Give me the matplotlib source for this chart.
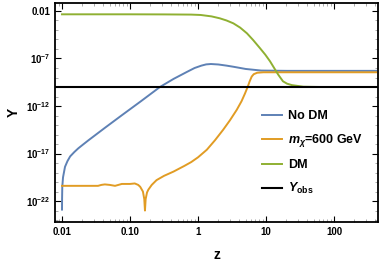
import numpy as np
import matplotlib.pyplot as plt
from matplotlib.ticker import FixedLocator, NullFormatter

plt.rcParams['font.family'] = ['Liberation Sans', 'DejaVu Sans']
plt.rcParams['mathtext.fontset'] = 'custom'
plt.rcParams['mathtext.rm'] = 'Liberation Sans:bold'
plt.rcParams['mathtext.it'] = 'Liberation Sans:bold:italic'
plt.rcParams['mathtext.bf'] = 'Liberation Sans:bold'

# log10(z), log10(Y)
nodm_lz = [-2.0, -1.999, -1.996, -1.985, -1.956, -1.92, -1.88, -1.82, -1.76, -1.69,
           -1.61, -1.37, -1.12, -0.84, -0.56, -0.36, -0.16, -0.05, 0.05, 0.12, 0.19,
           0.30, 0.42, 0.53, 0.70, 0.93, 1.3, 2.0, 2.62]
nodm_ly = [-22.9, -21.8, -20.5, -19.5, -18.4, -17.8, -17.3, -16.85, -16.45, -16.05,
           -15.6, -14.3, -12.97, -11.5, -10.0, -9.15, -8.4, -8.0, -7.75, -7.62, -7.58,
           -7.63, -7.75, -7.88, -8.1, -8.27, -8.3, -8.3, -8.3]

mx_lz = [-2.0, -1.7, -1.47, -1.42, -1.37, -1.30, -1.22, -1.17, -1.12, -1.0, -0.93,
         -0.88, -0.85, -0.81, -0.79, -0.78, -0.77, -0.75, -0.73, -0.68, -0.61, -0.5,
         -0.36, -0.2, -0.10, 0.0, 0.13, 0.25, 0.37, 0.47, 0.57, 0.64, 0.69, 0.73,
         0.76, 0.79, 0.82, 0.87, 0.96, 1.5, 2.0, 2.62]
mx_ly = [-20.4, -20.4, -20.4, -20.3, -20.25, -20.3, -20.4, -20.3, -20.2, -20.2,
         -20.15, -20.3, -20.5, -21.0, -21.8, -23.0, -21.8, -21.1, -20.8, -20.3,
         -19.8, -19.35, -18.9, -18.3, -17.9, -17.4, -16.6, -15.6, -14.5, -13.5,
         -12.4, -11.5, -10.7, -10.0, -9.4, -8.9, -8.65, -8.5, -8.45, -8.45, -8.45, -8.45]

dm_lz = [-2.0, -1.0, -0.5, -0.1, 0.04, 0.2, 0.32, 0.42, 0.52, 0.62, 0.72, 0.81,
         0.91, 0.99, 1.06, 1.12, 1.18, 1.25, 1.31, 1.38, 1.55, 1.8, 2.62]
dm_ly = [-2.35, -2.35, -2.36, -2.38, -2.42, -2.57, -2.77, -3.0, -3.3, -3.75, -4.35,
         -5.05, -5.9, -6.6, -7.3, -8.0, -8.7, -9.4, -9.65, -9.8, -9.97, -10.0, -10.0]

y_obs = 9.0e-11

colors = {'nodm': '#5E81B5', 'mx': '#E19C24', 'dm': '#8FB032'}

fig = plt.figure(figsize=(3.82, 2.73), dpi=100)
ax = fig.add_axes([0.144, 0.187, 0.846, 0.802])

lw = 1.4
ax.plot(10 ** np.array(nodm_lz), 10 ** np.array(nodm_ly), color=colors['nodm'], lw=lw, label='No DM')
ax.plot(10 ** np.array(mx_lz), 10 ** np.array(mx_ly), color=colors['mx'], lw=lw,
        label=r'$m_{\chi}$=600 GeV')
ax.plot(10 ** np.array(dm_lz), 10 ** np.array(dm_ly), color=colors['dm'], lw=lw, label='DM')
ax.axhline(y_obs, color='black', lw=1.5, label=r'$Y_{\mathrm{obs}}$')

ax.set_xscale('log')
ax.set_yscale('log')
ax.set_xlim(10 ** -2.103, 10 ** 2.65)
ax.set_ylim(10 ** -24.2, 10 ** -1.16)

xt = [0.01, 0.1, 1, 10, 100]
xl = ['0.01', '0.10', '1', '10', '100']
ax.set_xticks(xt)
ax.set_xticklabels(xl)
xminor = [m * 10.0 ** e for e in range(-3, 3) for m in range(2, 10)]
ax.xaxis.set_minor_locator(FixedLocator(xminor))
ax.xaxis.set_minor_formatter(NullFormatter())

yt = [1e-2, 1e-7, 1e-12, 1e-17, 1e-22]
yl = ['0.01', r'$10^{-7}$', r'$10^{-12}$', r'$10^{-17}$', r'$10^{-22}$']
ax.set_yticks(yt)
ax.set_yticklabels(yl)
ax.yaxis.set_minor_locator(FixedLocator([10.0 ** e for e in range(-25, 0)]))
ax.yaxis.set_minor_formatter(NullFormatter())

ax.tick_params(which='both', direction='in', top=True, right=True, labelsize=7)
ax.tick_params(which='major', length=4, width=0.8)
ax.tick_params(which='minor', length=2, width=0.5, color='#888888')
for lab in ax.get_xticklabels() + ax.get_yticklabels():
    lab.set_fontweight('bold')
for s in ax.spines.values():
    s.set_linewidth(1.3)

ax.set_xlabel('z', fontsize=10, fontweight='bold', labelpad=8)
ax.set_ylabel('Y', fontsize=10, fontweight='bold', labelpad=4)

leg = ax.legend(loc='upper left', bbox_to_anchor=(0.641, 0.511), frameon=False,
                prop={'weight': 'bold', 'size': 9}, handlelength=1.6,
                handletextpad=0.45, labelspacing=0.8, borderpad=0,
                borderaxespad=0)

fig.savefig('out.png', dpi=100)
